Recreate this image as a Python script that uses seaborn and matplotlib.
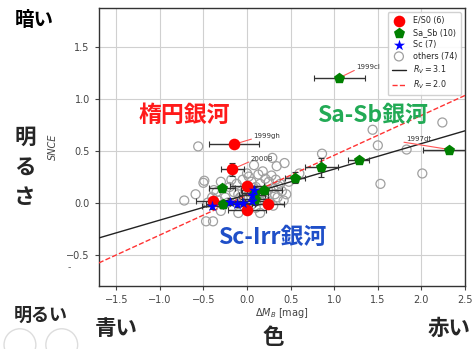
import numpy as np
import pandas as pd
import matplotlib
matplotlib.use("Agg")
import matplotlib.pyplot as plt
import seaborn as sns
from matplotlib.patches import Ellipse

# E/S0 (red circles)
es0_x = [-0.15, -0.17, 0.00, -0.39, 0.00, 0.24]
es0_y = [0.56, 0.32, 0.16, 0.02, -0.07, -0.01]
es0_xerr = [0.29, 0.13, 0.20, 0.20, 0.22, 0.18]
es0_yerr = [0.00, 0.06, 0.03, 0.03, 0.03, 0.03]

# Sa_Sb (green pentagons)
sasb_x = [1.06, 2.32, 1.28, 0.85, 0.55, 0.20, 0.09, -0.29, -0.27, 0.09]
sasb_y = [1.20, 0.51, 0.41, 0.34, 0.24, 0.12, 0.09, 0.14, -0.01, 0.03]
sasb_xerr = [0.29, 0.30, 0.12, 0.19, 0.12, 0.20, 0.15, 0.15, 0.20, 0.15]
sasb_yerr = [0.00, 0.00, 0.02, 0.09, 0.05, 0.03, 0.04, 0.03, 0.03, 0.05]

# Sc (blue stars)
sc_x = [0.06, -0.11, 0.06, -0.05, -0.40, 0.08, -0.20]
sc_y = [0.07, -0.01, 0.02, 0.00, -0.03, 0.12, 0.01]
sc_xerr = [0.15, 0.20, 0.18, 0.15, 0.12, 0.15, 0.18]
sc_yerr = [0.03, 0.03, 0.03, 0.03, 0.03, 0.03, 0.03]

# others (open circles)
oth_x = [-0.56, -0.50, -0.49, -0.59, -0.72, -0.47, -0.39, -0.40, -0.45,
         0.08, 0.29, 0.34, 0.43, 0.13, 0.21, -0.05, 0.05, 0.15, -0.12,
         -0.20, 0.30, 0.40, 0.35, 0.45, 0.00, -0.30, -0.35, -0.10, 0.25,
         0.10, -0.25, 0.30, 0.20, -0.15, -0.10, 0.10, -0.30, 0.15, -0.02,
         0.12, 0.22, -0.22, 0.38, 0.02, -0.08, 0.18, 0.28, -0.38, 0.05,
         0.86, 1.44, 1.50, 2.24, 1.83, 2.01, 1.53, 0.60, 0.48, 0.32,
         -0.18, 0.08, 0.26, -0.28, 0.14, 0.36, -0.05, 0.04, -0.33, 0.42,
         0.18, -0.12, 0.24, 0.00, 0.33]
oth_y = [0.54, 0.19, 0.21, 0.08, 0.02, -0.18, -0.18, 0.05, 0.00,
         0.36, 0.43, 0.35, 0.38, 0.27, 0.23, 0.22, 0.20, 0.18, 0.18,
         0.15, 0.14, 0.11, 0.05, 0.08, 0.28, 0.20, 0.10, 0.08, 0.20,
         0.15, 0.05, -0.03, 0.02, 0.10, -0.10, -0.05, -0.08, -0.10, 0.12,
         0.06, 0.08, 0.00, 0.18, 0.25, 0.05, 0.30, 0.26, 0.12, -0.02,
         0.47, 0.70, 0.55, 0.77, 0.51, 0.28, 0.18, 0.28, 0.20, 0.08,
         0.22, 0.14, 0.00, -0.02, 0.02, 0.16, 0.04, 0.10, 0.02, 0.02,
         0.10, 0.00, 0.12, 0.06, 0.22]

# extinction lines (end points)
line_x = [-1.7, 2.5]
rv31_y = [-0.34, 0.69]
rv20_y = [-0.58, 1.03]

# labelled SNe: name, point, label position
sn_names = ["1999cl", "1999gh", "2000B", "1997dt"]
sn_px = [1.06, -0.15, -0.17, 2.32]
sn_py = [1.20, 0.56, 0.32, 0.51]
sn_lx = [1.25, 0.07, 0.04, 1.82]
sn_ly = [1.30, 0.64, 0.42, 0.61]

sns.set_theme(style="ticks")
plt.rcParams['font.family'] = ['Noto Sans CJK JP', 'DejaVu Sans']

fig = plt.figure(figsize=(4.75, 3.49), dpi=100)
ax = fig.add_axes([0.208, 0.181, 0.771, 0.796])
ax.grid(True, color='#d0d0d0', linewidth=0.8)
ax.set_axisbelow(True)

oth = pd.DataFrame({'x': oth_x, 'y': oth_y})
sns.scatterplot(data=oth, x='x', y='y', ax=ax, marker='o', s=42,
                facecolor='none', edgecolor='#a0a0a0', linewidth=0.9,
                label='others (74)', zorder=2)

ax.plot(line_x, rv31_y, color='#222222', lw=1.0, label='$R_V = 3.1$', zorder=3)
ax.plot(line_x, rv20_y, color='#ff3333', lw=1.0, ls='--', label='$R_V = 2.0$', zorder=3)

groups = [
    (es0_x, es0_y, es0_xerr, es0_yerr, 'o', 'red', 70, 'E/S0 (6)'),
    (sasb_x, sasb_y, sasb_xerr, sasb_yerr, 'p', 'green', 70, 'Sa_Sb (10)'),
    (sc_x, sc_y, sc_xerr, sc_yerr, '*', 'blue', 70, 'Sc (7)'),
]
for gx, gy, gxe, gye, mk, col, sz, lab in groups:
    ax.errorbar(gx, gy, xerr=gxe, yerr=gye, fmt='none', ecolor='#333333',
                elinewidth=1.0, capsize=2, capthick=0.8, zorder=4)
    df = pd.DataFrame({'x': gx, 'y': gy})
    sns.scatterplot(data=df, x='x', y='y', ax=ax, marker=mk, s=sz, color=col,
                    edgecolor=col, linewidth=0, label=lab, zorder=5)

for n, px, py, lx, ly in zip(sn_names, sn_px, sn_py, sn_lx, sn_ly):
    ax.plot([px, lx - 0.02], [py, ly - 0.03], color='#ff5555', lw=0.8, zorder=4)
    ax.text(lx, ly, n, fontsize=5, color='#333333', va='center',
            family=['DejaVu Sans'])

ax.set_xlim(-1.7, 2.5)
ax.set_ylim(-0.8, 1.87)
ax.set_xticks([-1.5, -1.0, -0.5, 0.0, 0.5, 1.0, 1.5, 2.0, 2.5])
ax.set_yticks([-0.5, 0.0, 0.5, 1.0, 1.5])
ax.tick_params(labelsize=7, colors='#444444', length=3, width=0.8)
for tl in ax.get_xticklabels() + ax.get_yticklabels():
    tl.set_family(['DejaVu Sans'])
for sp in ax.spines.values():
    sp.set_color('#333333')
    sp.set_linewidth(1.0)
    sp.set_visible(True)
ax.set_xlabel(r'$\Delta M_B$ [mag]', fontsize=7, color='#444444',
              family=['DejaVu Sans'], labelpad=1)
ax.set_ylabel('SNCE', fontsize=7, color='#444444', style='italic',
              family=['DejaVu Sans'], labelpad=6)

h, l = ax.get_legend_handles_labels()
order = ['E/S0 (6)', 'Sa_Sb (10)', 'Sc (7)', 'others (74)', '$R_V = 3.1$', '$R_V = 2.0$']
hd = dict(zip(l, h))
leg = ax.legend([hd[k] for k in order], order, loc='upper right', fontsize=5.8,
                frameon=True, framealpha=0.9, edgecolor='#cccccc',
                handlelength=1.8, labelspacing=0.35, borderpad=0.5)
for t in leg.get_texts():
    t.set_family(['DejaVu Sans'])

# slide annotations
ax.text(-1.25, 0.84, '楕円銀河', fontsize=16.5, color='#ff1a1a', weight='bold', va='center')
ax.text(0.80, 0.84, 'Sa-Sb銀河', fontsize=16.5, color='#22aa55', weight='bold', va='center')
ax.text(-0.33, -0.34, 'Sc-Irr銀河', fontsize=16.5, color='#1f4fc8', weight='bold', va='center')

fig.text(0.032, 0.942, '暗い', fontsize=14, color='black', weight='bold', va='center')
for i, ch in enumerate('明るさ'):
    fig.text(0.03, 0.607 - i * 0.086, ch, fontsize=15.5, weight='bold', va='center')
fig.text(0.028, 0.097, '明るい', fontsize=13, weight='bold', va='center')
fig.text(0.2, 0.058, '青い', fontsize=15.5, weight='bold', va='center')
fig.text(0.552, 0.034, '色', fontsize=15.5, weight='bold', va='center')
fig.text(0.9, 0.058, '赤い', fontsize=15.5, weight='bold', va='center')
fig.text(0.143, 0.232, '-', fontsize=7, color='#666666', va='center')

for cx in (0.042, 0.13):
    fig.patches.append(Ellipse((cx, 0.012), 0.067, 0.092, transform=fig.transFigure,
                               fill=False, edgecolor='#dddddd', lw=1.0,
                               figure=fig))

fig.savefig('out.png', dpi=100)
